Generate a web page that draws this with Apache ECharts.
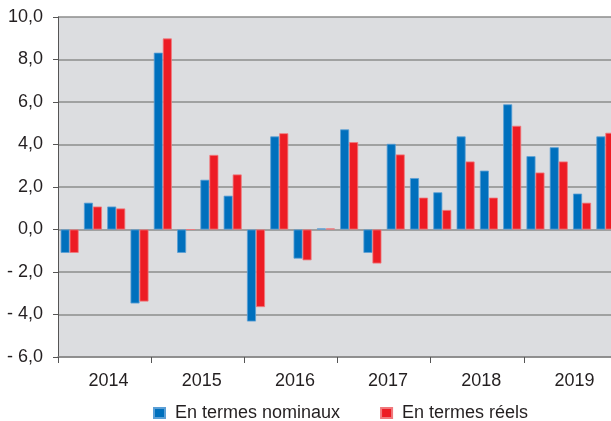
<!DOCTYPE html>
<html>
<head>
<meta charset="utf-8">
<script src="https://cdn.jsdelivr.net/npm/echarts@6/dist/echarts.min.js"></script>
<style>
  html, body { margin: 0; padding: 0; background: #fff; }
  #chart { width: 611px; height: 421px; }
</style>
</head>
<body>
<div id="chart"></div>
<script>
// quarters 2014T1 .. 2019T4
var quarters = [];
var years = ['2014', '2015', '2016', '2017', '2018', '2019'];
years.forEach(function (y) {
    for (var q = 1; q <= 4; q++) quarters.push(y + 'T' + q);
});

var nominaux = [-1.1, 1.26, 1.08, -3.48,
                8.32, -1.1, 2.34, 1.59,
                -4.33, 4.38, -1.37, 0.05,
                4.71, -1.1, 4.03, 2.42,
                1.75, 4.38, 2.77, 5.89,
                3.45, 3.87, 1.69, 4.38];
var reels = [-1.1, 1.08, 0.99, -3.39,
             8.99, 0, 3.51, 2.59,
             -3.65, 4.53, -1.45, 0.05,
             4.11, -1.6, 3.53, 1.5,
             0.92, 3.2, 1.5, 4.88,
             2.68, 3.2, 1.26, 4.55];

var myChart = echarts.init(document.getElementById('chart'));

function fmt(v) {
    var s = Math.abs(v).toFixed(1).replace('.', ',');
    return v < 0 ? '- ' + s : s;
}

var font = 'Liberation Sans, Arial, sans-serif';

var option = {
    animation: false,
    textStyle: { fontFamily: font },
    grid: {
        left: 58, top: 17, bottom: 64, width: 559,
        outerBoundsMode: 'none',
        show: true,
        backgroundColor: '#dcdde0',
        borderWidth: 0
    },
    legend: {
        top: 399,
        left: 148,
        itemWidth: 11,
        itemHeight: 10,
        itemGap: 40,
        icon: 'rect',
        textStyle: { fontSize: 18, color: '#231f20', fontFamily: font, padding: [0, 0, 0, 5] },
        data: ['En termes nominaux', 'En termes réels']
    },
    xAxis: [
        {
            type: 'category',
            data: quarters,
            show: false
        },
        {
            type: 'category',
            data: years,
            position: 'bottom',
            axisLine: { show: true, lineStyle: { color: '#888', width: 1.5 } },
            axisTick: { show: true, length: 6, lineStyle: { color: '#555' } },
            axisLabel: { fontSize: 18, color: '#231f20', margin: 15, padding: [0, 0, 0, 8] }
        }
    ],
    yAxis: {
        type: 'value',
        min: -6,
        max: 10,
        interval: 2,
        axisLine: { show: true, onZero: false, lineStyle: { color: '#555' } },
        axisTick: { show: true, length: 5, lineStyle: { color: '#555' } },
        axisLabel: { fontSize: 18, color: '#231f20', margin: 15, formatter: fmt },
        splitLine: { show: true, lineStyle: { color: '#8c8c8c', width: 1.5 } }
    },
    series: [
        {
            name: 'En termes nominaux',
            type: 'bar',
            xAxisIndex: 0,
            data: nominaux,
            barWidth: 9,
            barGap: '0%',
            itemStyle: { color: '#0070bd', borderColor: '#5b9fd6', borderWidth: 0.8 }
        },
        {
            name: 'En termes réels',
            type: 'bar',
            xAxisIndex: 0,
            data: reels,
            barWidth: 9,
            barGap: '0%',
            itemStyle: { color: '#ed1c24', borderColor: '#f0787c', borderWidth: 0.8 }
        }
    ]
};

myChart.setOption(option);
</script>
</body>
</html>
